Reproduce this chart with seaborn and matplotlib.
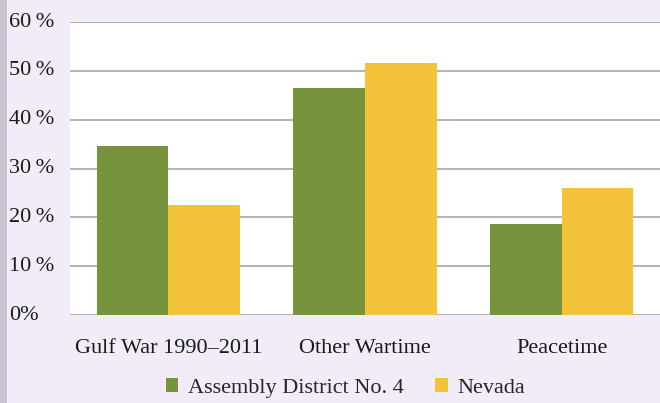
import pandas as pd
import seaborn as sns
import matplotlib.pyplot as plt
import matplotlib.transforms as mtransforms
from matplotlib.patches import Rectangle

# Chart data
categories = ["Gulf War 1990\u20132011", "Other Wartime", "Peacetime"]
district = [34.6, 46.5, 18.6]
nevada = [22.5, 51.6, 26.0]
series = ["Assembly District No. 4", "Nevada"]
tick_values = [0, 10, 20, 30, 40, 50, 60]
tick_labels = ["0%", "10\u2009%", "20\u2009%", "30\u2009%", "40\u2009%", "50\u2009%", "60\u2009%"]

df = pd.DataFrame({
    "Category": categories * 2,
    "Area": [series[0]] * 3 + [series[1]] * 3,
    "Percent": district + nevada,
})

sns.set_theme(style="white")
plt.rcParams["font.family"] = ["Liberation Serif", "DejaVu Serif"]

bg = "#F1ECF8"
fig = plt.figure(figsize=(6.6, 4.03), dpi=100, facecolor=bg)
ax = fig.add_axes([70 / 660, 1 - 315 / 403, 590 / 660, 293 / 403])
ax.set_facecolor("white")

# grey strip on the left edge
fig.patches.append(Rectangle((0, 0), 7 / 660, 1, transform=fig.transFigure,
                             facecolor="#C9C2D1", edgecolor="none"))

palette = {series[0]: "#77933C", series[1]: "#F2C239"}
sns.barplot(data=df, x="Category", y="Percent", hue="Area", palette=palette,
            width=0.73, saturation=1, linewidth=0, ax=ax, legend=True)

ax.set_xlim(-0.5, 2.5)
ax.set_ylim(0, 60)
ax.set_yticks(tick_values)
ax.set_yticklabels([])
ax.yaxis.grid(True, color="#A6A6A6", linewidth=1.2)
ax.set_axisbelow(True)
for s in ax.spines.values():
    s.set_visible(False)
ax.tick_params(axis="y", length=0)
ax.tick_params(axis="x", length=0, pad=17, labelsize=16, labelcolor="#1a1a1a")
ax.set_xlabel("")
ax.set_ylabel("")

# left-aligned y tick labels, as in the original
trans = mtransforms.blended_transform_factory(fig.transFigure, ax.transData)
for v, lab in zip(tick_values, tick_labels):
    fig.text(9 / 660, v, lab, transform=trans, ha="left", va="center",
             fontsize=16, color="#1a1a1a")

handles, labels = ax.get_legend_handles_labels()
ax.legend_.remove()
fig.legend(handles, labels, loc="center", bbox_to_anchor=(0.524, 1 - 388 / 403),
           ncol=2, frameon=False, fontsize=16, handlelength=0.55, handleheight=0.55,
           handletextpad=0.45, columnspacing=1.4)

fig.savefig("out.png", dpi=100, facecolor=bg)
